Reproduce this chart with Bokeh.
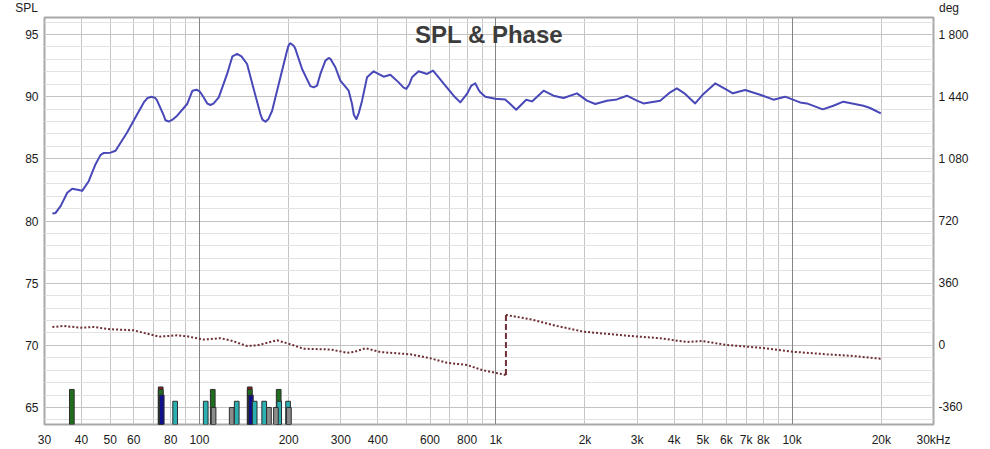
from bokeh.plotting import figure
from bokeh.layouts import column
from bokeh.models import Range1d, LinearAxis, FixedTicker, Grid, Label, Div
from bokeh.embed import file_html
from bokeh.resources import INLINE

# ---------------- data ----------------
spl_freq = [31.9, 32.7, 34.0, 35.8, 37.2, 39.2, 40.2, 42.3, 44.6, 46.4, 47.6, 50.1, 52.1,
            57.0, 61.7, 64.9, 66.8, 68.9, 71.1, 72.0, 75.8, 76.8, 78.8, 81.1, 84.1, 90.9, 94.7,
            97.7, 100.4, 103.4, 106.4, 108.9, 111.5, 116.2, 124.0, 129.2, 134.0, 138.6, 144.8,
            152.4, 160.6, 163.2, 167.0, 170.9, 175.9, 187.6, 197.6, 200.1, 202.7, 208.0, 210.7,
            222.0, 236.7, 242.9, 249.4, 255.9, 266.1, 273.0, 276.6, 287.5, 298.9, 318.8, 327.3,
            331.9, 338.4, 345.1, 353.8, 367.8, 387.2, 418.4, 440.8, 470.1, 487.5, 499.0, 510.9,
            521.7, 549.0, 586.1, 614.1, 641.4, 675.6, 720.6, 759.1, 799.6, 826.8, 853.0, 873.0,
            886.7, 921.8, 996, 1076, 1119, 1172, 1267, 1325,
            1450, 1566, 1693, 1879, 2031, 2166, 2371, 2563, 2770, 2994, 3151, 3587, 3877,
            4084, 4356, 4708, 5021, 5500, 5943, 6310, 6942, 7801, 8648, 9471, 10640, 11210,
            12690, 13780, 14890, 17400, 18330, 19920]
spl_db = [80.6, 80.65, 81.2, 82.27, 82.6, 82.5, 82.42, 83.2, 84.57, 85.32, 85.48, 85.5, 85.65,
          87.12, 88.6, 89.54, 89.9, 90.0, 89.88, 89.68, 88.47, 88.1, 88.0, 88.15, 88.47, 89.41, 90.48,
          90.56, 90.4, 89.94, 89.44, 89.33, 89.44, 89.94, 91.83, 93.25, 93.44, 93.25, 92.63,
          90.62, 88.6, 88.15, 87.98, 88.2, 88.87, 91.56, 93.71, 94.15, 94.3, 94.1, 93.85,
          92.23, 90.85, 90.75, 90.89, 91.83, 92.9, 93.12, 93.05, 92.37, 91.29, 90.48, 89.41,
          88.55, 88.2, 88.7, 89.68, 91.56, 92.04, 91.61, 91.77, 91.15, 90.75, 90.62, 91.0,
          91.56, 92.04, 91.83, 92.1, 91.56, 90.89, 90.08, 89.54, 90.22, 90.89, 91.07, 90.6,
          90.35, 90.0, 89.84, 89.78, 89.41, 88.95, 89.76, 89.62,
          90.48, 90.08, 89.9, 90.27, 89.68, 89.41, 89.68, 89.78, 90.08, 89.68, 89.46, 89.68, 90.35,
          90.67, 90.22, 89.46, 90.22, 91.07, 90.62, 90.27, 90.54, 90.16, 89.76, 90.0, 89.54, 89.46,
          88.98, 89.27, 89.6, 89.27, 89.09, 88.65]

phase_freq = [31.9, 34.9, 39.7, 44.0, 50.1, 60.0, 72.9, 84.1, 90.9, 103.4, 117.7, 127.2, 144.8,
              156.5, 182.8, 202.7, 224.8, 276.6, 314.9, 331.5, 363.0, 407.8, 514.8, 601.3,
              684.6, 799.6, 898.6, 1082, 1082, 1307, 1609, 1978, 2842, 3587, 4415, 4961,
              6023, 7801, 10020, 13090, 16090, 19960]
phase_deg = [106, 112, 102, 106, 93, 87, 50, 58, 52, 33, 41, 29, -4,
             0, 29, 6, -20, -24, -43, -39, -17, -39, -52, -75,
             -101, -114, -143, -172, 176, 151, 112, 79, 54, 41, 19, 25,
             2, -14, -37, -52, -62, -78]

# filter markers (bars at the bottom): frequency and top level in dB
red_freq = [74.0, 147.8]
red_top = [66.65, 66.65]
green_freq = [37.1, 74.0, 110.9, 147.8, 185.1]
green_top = [66.45, 66.45, 66.45, 66.45, 66.45]
blue_freq = [74.6, 149.1]
blue_top = [66.0, 66.0]
teal_freq = [82.8, 105.0, 133.6, 153.6, 165.4, 185.8, 199.1]
teal_top = [65.5, 65.5, 65.5, 65.5, 65.5, 65.5, 65.5]
gray_freq = [111.6, 128.5, 171.6, 181.2, 200.4]
gray_top = [65.0, 65.0, 65.0, 65.0, 65.0]

x_tick_values = [30, 40, 50, 60, 80, 100, 200, 300, 400, 600, 800, 1000, 2000, 3000, 4000,
                 5000, 6000, 7000, 8000, 10000, 20000, 30000]
x_tick_labels = ["30", "40", "50", "60", "80", "100", "200", "300", "400", "600", "800", "1k",
                 "2k", "3k", "4k", "5k", "6k", "7k", "8k", "10k", "20k", "30kHz"]
spl_ticks = [65, 70, 75, 80, 85, 90, 95]
phase_ticks = [-360, 0, 360, 720, 1080, 1440, 1800]
phase_tick_labels = ["-360", "0", "360", "720", "1 080", "1 440", "1 800"]

# ---------------- figure ----------------
Y_START, Y_END = 63.63, 96.37
PH_START, PH_END = (Y_START - 70) * 72, (Y_END - 70) * 72
FONT = "Liberation Sans"
TXT = "#1a1a1a"

# header strip holding the axis unit captions
cap_style = "position:absolute; top:1px; font-family:'Liberation Sans'; font-size:12px; line-height:14px; color:%s;" % TXT
hd = Div(width=990, height=15, margin=0,
         styles={"position": "relative", "background-color": "white"},
         text=('<span style="%s right:%dpx;">SPL</span>'
               '<span style="%s left:%dpx;">deg</span>') % (cap_style, 990 - 38, cap_style, 939))

p = figure(width=990, height=434, x_axis_type="log",
           x_range=Range1d(30, 30000), y_range=Range1d(Y_START, Y_END),
           output_backend="svg", toolbar_location=None,
           min_border_left=44, min_border_right=57, min_border_top=2, min_border_bottom=25,
           background_fill_color="white", border_fill_color="white", margin=0)
p.outline_line_color = "#a8a8a8"
p.outline_line_width = 2

# grids
minor_x = [m * 10 ** e for e in range(1, 5) for m in range(1, 10)]
minor_x = [v for v in minor_x if 30 < v < 30000 and v not in (100, 1000, 10000)]
p.xgrid.ticker = FixedTicker(ticks=minor_x)
p.xgrid.grid_line_color = "#c4c4c4"
p.add_layout(Grid(dimension=0, ticker=FixedTicker(ticks=[100, 1000, 10000]),
                  grid_line_color="#858585"))
p.ygrid.ticker = FixedTicker(ticks=spl_ticks, minor_ticks=list(range(64, 97)))
p.ygrid.grid_line_color = "#c4c4c4"
p.ygrid.minor_grid_line_color = "#e2e2e2"

# axes
def style_axis(ax, standoff):
    ax.axis_line_color = None
    ax.major_tick_line_color = None
    ax.minor_tick_line_color = None
    ax.major_tick_out = 0
    ax.major_tick_in = 0
    ax.minor_tick_out = 0
    ax.minor_tick_in = 0
    ax.major_label_standoff = standoff
    ax.major_label_text_font = FONT
    ax.major_label_text_font_size = "12px"
    ax.major_label_text_color = TXT

p.xaxis.ticker = FixedTicker(ticks=x_tick_values)
p.xaxis.major_label_overrides = {v: l for v, l in zip(x_tick_values, x_tick_labels)}
style_axis(p.xaxis[0], 8)

p.yaxis.ticker = FixedTicker(ticks=spl_ticks)
style_axis(p.yaxis[0], 6)

p.extra_y_ranges = {"phase": Range1d(PH_START, PH_END)}
rax = LinearAxis(y_range_name="phase", ticker=FixedTicker(ticks=phase_ticks))
rax.major_label_overrides = {v: l for v, l in zip(phase_ticks, phase_tick_labels)}
style_axis(rax, 5)
p.add_layout(rax, "right")

# bars
BW = 1.0184
def bars(freqs, tops, color):
    p.quad(left=[f / BW for f in freqs], right=[f * BW for f in freqs],
           bottom=Y_START, top=tops, fill_color=color, line_color="#2e2e2e", line_width=1)

bars(red_freq, red_top, "#8b1c1c")
bars(green_freq, green_top, "#1e6e1e")
bars(blue_freq, blue_top, "#10108c")
bars(teal_freq, teal_top, "#2ab0b0")
bars(gray_freq, gray_top, "#8c8c8c")

# phase (wrapped)
PH_COLOR = "#6e2e34"
wrap = next(i for i in range(len(phase_deg) - 1) if abs(phase_deg[i + 1] - phase_deg[i]) > 180)
p.line(phase_freq[:wrap + 1], phase_deg[:wrap + 1], y_range_name="phase",
       line_color=PH_COLOR, line_width=2, line_dash="2 2")
p.line(phase_freq[wrap + 1:], phase_deg[wrap + 1:], y_range_name="phase",
       line_color=PH_COLOR, line_width=2, line_dash="2 2")
p.line(phase_freq[wrap:wrap + 2], phase_deg[wrap:wrap + 2], y_range_name="phase",
       line_color=PH_COLOR, line_width=2, line_dash="6 3")

# SPL
p.line(spl_freq, spl_db, line_color="#4848b8", line_width=2, line_join="round")

# chart title inside the frame
p.add_layout(Label(x=444.5, y=390, x_units="screen", y_units="screen", text="SPL & Phase",
                   text_align="center", text_baseline="middle", text_font=FONT,
                   text_font_style="bold", text_font_size="24px", text_color="#3c3c3c"))

layout = column(hd, p, spacing=0)
open("out.html", "w").write(file_html(layout, INLINE))
